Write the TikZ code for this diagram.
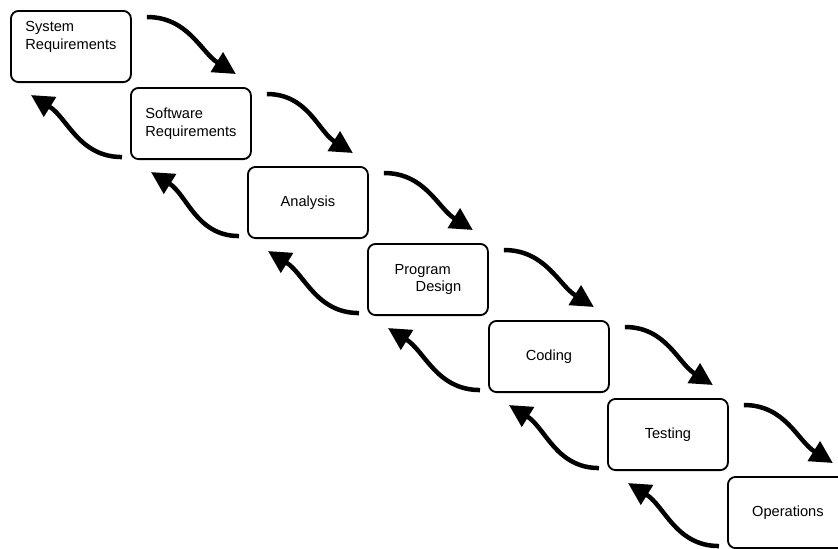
\documentclass[tikz,border=0pt]{standalone}
\usepackage{fontspec}
\setmainfont{Liberation Sans}
\usetikzlibrary{arrows.meta}

\begin{document}
\begin{tikzpicture}[x=0.025cm, y=-0.025cm,
        stage/.style={draw, line width=1.3pt, rounded corners=5.5pt, fill=white,
            minimum width=3cm, minimum height=1.78cm, anchor=north west,
            align=left, font=\fontsize{10.4}{12.5}\selectfont},
        flow/.style={line width=3.2pt, -{Triangle[length=16pt,width=16pt]}}]
        \useasboundingbox (0,0) rectangle (838,548);

        \node[stage, text depth=16pt] (sysreq) at (10,10) {System\\Requirements};
        \node[stage] (swreq) at (130,87) {Software\\Requirements};
        \node[stage] (analysis) at (247,166) {Analysis};
        \node[stage] (design) at (367,243) {Program\\\hspace*{15pt}Design};
        \node[stage] (coding) at (488,320) {Coding};
        \node[stage] (testing) at (607,398) {Testing};
        \node[stage] (ops) at (727,476) {Operations};

        \draw[flow] ([shift={(15,7)}]sysreq.north east) to[out=0,in=148] ([shift={(-16,-13)}]swreq.north east);
        \draw[flow] ([shift={(15,7)}]swreq.north east) to[out=0,in=148] ([shift={(-16,-13)}]analysis.north east);
        \draw[flow] ([shift={(15,7)}]analysis.north east) to[out=0,in=148] ([shift={(-16,-13)}]design.north east);
        \draw[flow] ([shift={(15,7)}]design.north east) to[out=0,in=148] ([shift={(-16,-13)}]coding.north east);
        \draw[flow] ([shift={(15,7)}]coding.north east) to[out=0,in=148] ([shift={(-16,-13)}]testing.north east);
        \draw[flow] ([shift={(15,7)}]testing.north east) to[out=0,in=148] ([shift={(-16,-13)}]ops.north east);

        \draw[flow] ([shift={(-8,-3)}]swreq.south west) to[out=180,in=-32] ([shift={(21,12)}]sysreq.south west);
        \draw[flow] ([shift={(-8,-3)}]analysis.south west) to[out=180,in=-32] ([shift={(21,12)}]swreq.south west);
        \draw[flow] ([shift={(-8,-3)}]design.south west) to[out=180,in=-32] ([shift={(21,12)}]analysis.south west);
        \draw[flow] ([shift={(-8,-3)}]coding.south west) to[out=180,in=-32] ([shift={(21,12)}]design.south west);
        \draw[flow] ([shift={(-8,-3)}]testing.south west) to[out=180,in=-32] ([shift={(21,12)}]coding.south west);
        \draw[flow] ([shift={(-8,-3)}]ops.south west) to[out=180,in=-32] ([shift={(21,12)}]testing.south west);
    \end{tikzpicture}
\end{document}
